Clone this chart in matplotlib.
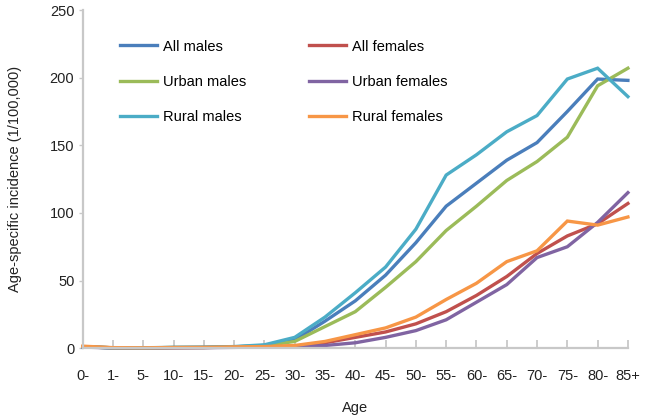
import matplotlib
matplotlib.use("Agg")
import matplotlib.pyplot as plt

plt.rcParams['font.family'] = ['Liberation Sans', 'DejaVu Sans']

ages = ["0-", "1-", "5-", "10-", "15-", "20-", "25-", "30-", "35-", "40-",
        "45-", "50-", "55-", "60-", "65-", "70-", "75-", "80-", "85+"]

all_males     = [1.0, 0.3, 0.2, 0.5, 0.6, 1.0, 2.0, 6.0, 20.0, 35.0, 54.0, 78.0, 105.0, 122.0, 139.0, 152.0, 175.0, 199.0, 198.0]
all_females   = [1.0, 0.3, 0.2, 0.4, 0.5, 0.8, 1.0, 1.5, 4.0, 8.0, 12.0, 18.0, 27.0, 39.0, 53.0, 70.0, 83.0, 92.0, 107.0]
urban_males   = [1.0, 0.3, 0.2, 0.5, 0.5, 0.9, 1.8, 5.0, 16.0, 27.0, 45.0, 64.0, 87.0, 105.0, 124.0, 138.0, 156.0, 194.0, 207.0]
urban_females = [0.8, 0.2, 0.2, 0.3, 0.4, 0.6, 0.8, 0.8, 2.0, 4.0, 8.0, 13.0, 21.0, 34.0, 47.0, 67.0, 75.0, 93.0, 115.0]
rural_males   = [1.0, 0.3, 0.3, 0.6, 0.7, 1.2, 2.5, 8.0, 23.0, 41.0, 60.0, 88.0, 128.0, 143.0, 160.0, 172.0, 199.0, 207.0, 186.0]
rural_females = [1.5, 0.4, 0.3, 0.5, 0.6, 1.0, 1.2, 2.0, 5.0, 10.0, 15.0, 23.0, 36.0, 48.0, 64.0, 72.0, 94.0, 91.0, 97.0]

yticks = [0, 50, 100, 150, 200, 250]

series = [
    ("All males", all_males, "#4a7ebb"),
    ("All females", all_females, "#c0504d"),
    ("Urban males", urban_males, "#9bbb59"),
    ("Urban females", urban_females, "#8064a2"),
    ("Rural males", rural_males, "#4bacc6"),
    ("Rural females", rural_females, "#f79646"),
]

FS = 10.5

fig = plt.figure(figsize=(6.46, 4.19), dpi=100)
ax = fig.add_axes([0.128, 0.169, 0.844, 0.807])

x = list(range(len(ages)))
handles = {}
for name, vals, col in series:
    h, = ax.plot(x, vals, color=col, lw=2.4, label=name, solid_joinstyle='miter', clip_on=False)
    handles[name] = h

order = ["All males", "Urban males", "Rural males", "All females", "Urban females", "Rural females"]
leg = ax.legend([handles[n] for n in order], order, ncol=2, loc='upper left',
                bbox_to_anchor=(0.057, 0.93), frameon=False, fontsize=FS,
                handlelength=2.55, handletextpad=0.4, columnspacing=4.3,
                labelspacing=1.47, borderaxespad=0)

ax.set_xlim(0, 18)
ax.set_ylim(0, 250)
ax.set_xticks(x)
ax.set_xticklabels(ages, fontsize=FS, color='#222222')
ax.set_yticks(yticks)
ax.set_yticklabels([str(v) for v in yticks], fontsize=FS, color='#222222')

for s in ['top', 'right']:
    ax.spines[s].set_visible(False)
for s in ['left', 'bottom']:
    ax.spines[s].set_color('#c8c8c8')
    ax.spines[s].set_linewidth(1.6)

ax.tick_params(axis='x', direction='in', length=6, width=1.3, color='#c8c8c8', pad=15)
ax.tick_params(axis='y', direction='out', length=3, width=1.0, color='#c8c8c8', pad=3)

ax.set_xlabel("Age", fontsize=FS, color='#222222', labelpad=13)
ax.set_ylabel("Age-specific incidence (1/100,000)", fontsize=FS, color='#222222', labelpad=20)

fig.savefig("out.png", dpi=100)
